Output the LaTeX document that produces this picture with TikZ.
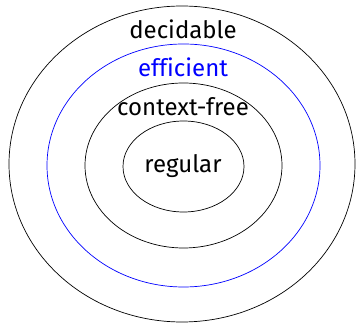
\documentclass[tikz,border=0pt]{standalone}
\usepackage{fontspec}
\setmainfont{Fira Sans}[Ligatures=NoCommon]
\begin{document}
\begin{tikzpicture}[x=1pt,y=-1pt,
  lbl/.style={anchor=base,inner sep=0pt,font=\fontsize{24}{28}\selectfont},
  ring/.style={draw=black,line width=0.7pt}]
\useasboundingbox (0,0) rectangle (357,323);
\draw[ring] (182,164) ellipse [x radius=173,y radius=158];
\draw[ring,draw=blue] (183.5,165.5) ellipse [x radius=136.5,y radius=121.5];
\draw[ring] (183.5,165.5) ellipse [x radius=98.5,y radius=82.5];
\draw[ring] (183.5,166.5) ellipse [x radius=60.5,y radius=45.5];
\node[lbl] (dec) at (183,39) {decidable};
\node[lbl,text=blue] (eff) at (183,77) {efficient};
\node[lbl] (cf) at (183,116) {context-free};
\node[lbl] (reg) at (183,173) {regular};
\end{tikzpicture}
\end{document}
